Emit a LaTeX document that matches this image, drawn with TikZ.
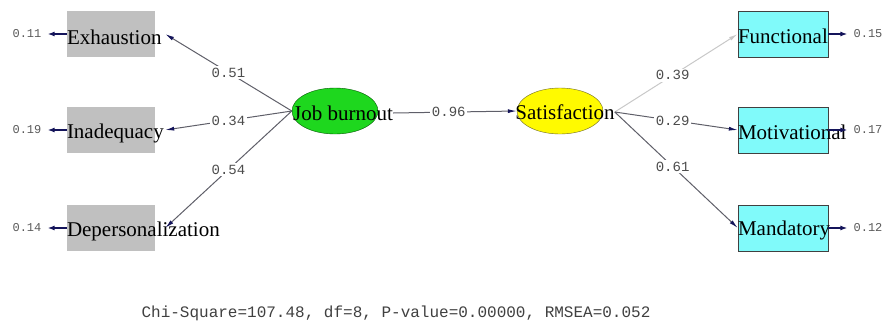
\documentclass[tikz,border=0pt]{standalone}
\usepackage{fontspec}
\setmainfont{Liberation Serif}
\setmonofont{Liberation Mono}
\usetikzlibrary{arrows.meta,shapes.geometric}

\definecolor{boxgray}{RGB}{192,192,192}
\definecolor{boxcyan}{RGB}{128,250,250}
\definecolor{latgreen}{RGB}{30,215,30}
\definecolor{latyellow}{RGB}{255,250,0}
\definecolor{tipnavy}{RGB}{20,20,90}
\definecolor{pathgray}{RGB}{95,95,105}
\definecolor{faintgray}{RGB}{200,200,200}

\tikzset{
    xbox/.style={rectangle, fill=boxgray, minimum width=88, minimum height=46, inner sep=0},
    ybox/.style={rectangle, fill=boxcyan, draw=black!75, minimum width=90, minimum height=46, inner sep=0},
    latent/.style={ellipse, minimum width=86, minimum height=46, inner sep=0},
    vname/.style={font=\fontsize{21}{21}\selectfont, inner sep=0, anchor=west},
    coef/.style={font=\ttfamily\fontsize{14}{14}\selectfont, text=black!70, fill=white, inner sep=1.5},
    errv/.style={font=\ttfamily\fontsize{12}{12}\selectfont, text=black!65, inner sep=0},
    load/.style={draw=pathgray, line width=1, -{Latex[length=9,width=4,color=tipnavy]}},
    weak/.style={draw=faintgray, line width=1, -{Latex[length=9,width=4,color=faintgray]}},
    err/.style={draw=tipnavy, line width=1.8, shorten >=6, -{Latex[length=7,width=5]}},
}

\begin{document}
\begin{tikzpicture}[x=1pt, y=-1pt]
    \useasboundingbox (0,0) rectangle (886,325);

    \node[latent, fill=latgreen, draw=green!35!black] (burn) at (335,111) {};
    \node[vname, anchor=center] (burnT) at (343,113) {Job burnout};
    \node[latent, fill=latyellow, draw=olive!70!black] (satis) at (560,111) {};
    \node[vname, anchor=center] (satisT) at (565,112) {Satisfaction};

    \foreach \nm/\txt/\y/\e/\c in {exh/Exhaustion/34/0.11/0.51, inad/Inadequacy/130/0.19/0.34, depers/Depersonalization/228/0.14/0.54} {
        \node[xbox] (\nm) at (111,\y) {};
        \node[vname] (\nm T) at ([yshift=-3]\nm.west) {\txt};
        \node[errv] (\nm E) at (27,\y) {\e};
        \draw[err] (\nm.west) -- (\nm E.east);
        \draw[load] (burn.west) -- node[coef] {\c} ([xshift=10]\nm.east);
    }

    \foreach \nm/\txt/\y/\e in {func/Functional/34/0.15, motiv/Motivational/130/0.17, mand/Mandatory/228/0.12} {
        \node[ybox] (\nm) at (783,\y) {};
        \node[vname] (\nm T) at ([yshift=-2]\nm.west) {\txt};
        \node[errv] (\nm E) at (868,\y) {\e};
        \draw[err] (\nm.east) -- (\nm E.west);
    }

    \draw[weak] (satisT.east) -- node[coef, pos=.47] {0.39} (func.west);
    \draw[load] (satisT.east) -- node[coef, pos=.47] {0.29} (motiv.west);
    \draw[load] (satisT.east) -- node[coef, pos=.47] {0.61} (mand.west);

    \draw[load] (burnT.east) -- node[coef, pos=.45] {0.96} (satis.west);

    \node[font=\ttfamily\fontsize{16}{16}\selectfont, text=black!75] (fit) at (396,313)
        {Chi-Square=107.48, df=8, P-value=0.00000, RMSEA=0.052};
\end{tikzpicture}
\end{document}
